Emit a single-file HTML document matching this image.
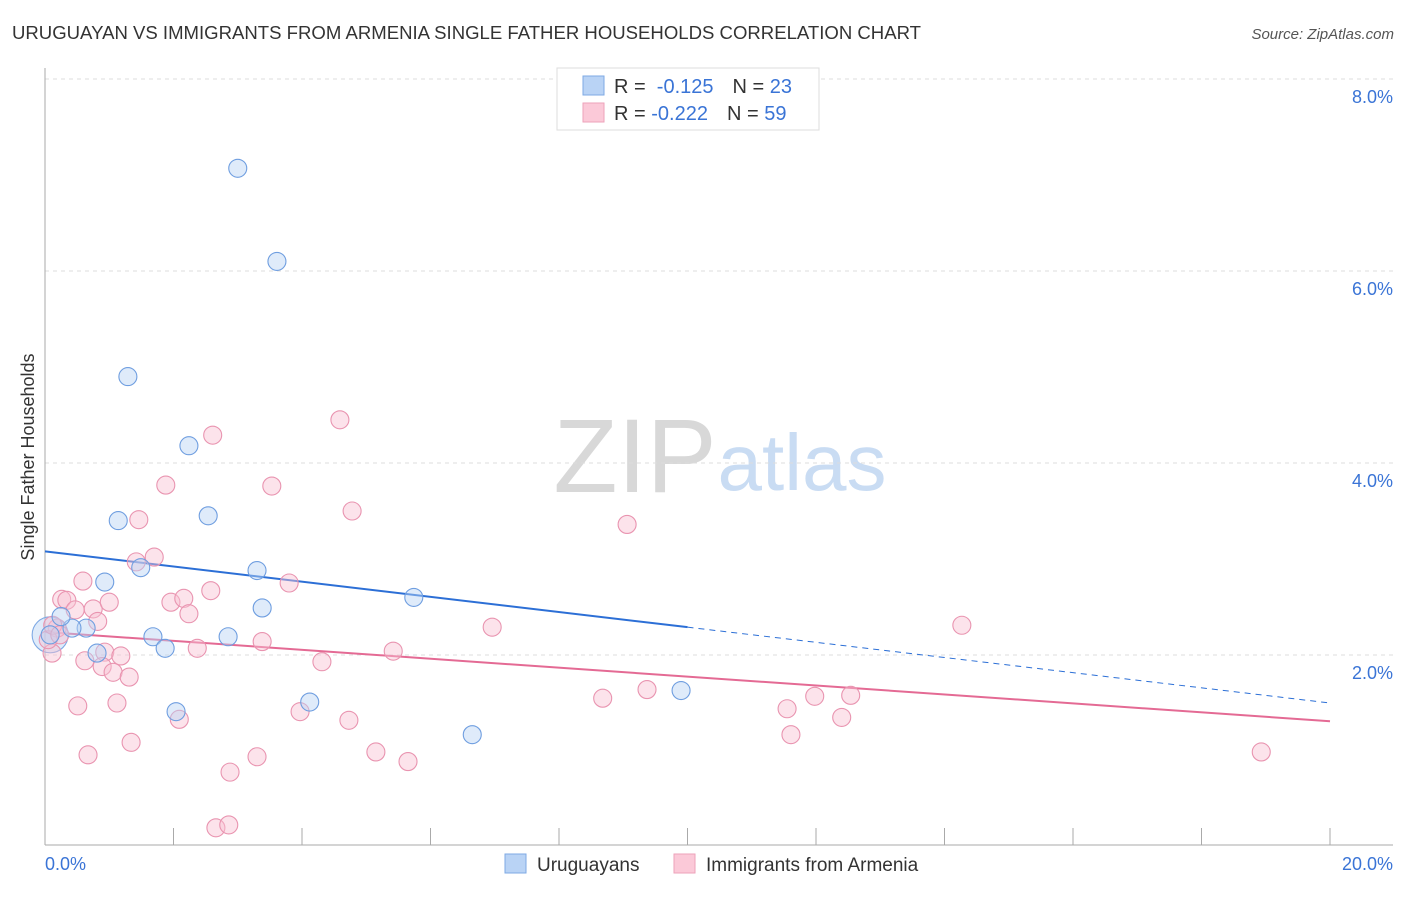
<!DOCTYPE html>
<html><head><meta charset="utf-8"><style>
body{margin:0;background:#fff;font-family:"Liberation Sans",sans-serif;}
svg text{font-family:"Liberation Sans",sans-serif;}
</style></head><body>
<svg id="chart" width="1406" height="892" viewBox="0 0 1406 892" xmlns="http://www.w3.org/2000/svg">
<text x="12" y="39" font-size="18" fill="#333" textLength="909" lengthAdjust="spacingAndGlyphs">URUGUAYAN VS IMMIGRANTS FROM ARMENIA SINGLE FATHER HOUSEHOLDS CORRELATION CHART</text>
<text x="1394" y="39" font-size="15" fill="#555" font-style="italic" text-anchor="end">Source: ZipAtlas.com</text>
<g>
<text x="635" y="492" font-size="105" fill="#d8d8d8" font-family="Liberation Serif,serif" text-anchor="middle">ZIP</text>
<text x="802" y="490" font-size="80" fill="#c9dcf3" text-anchor="middle">atlas</text>
</g>
<g id="grid"></g>
<g id="axes"></g>
<g id="trends"></g>
<g id="points"></g>
<text transform="translate(34,457) rotate(-90)" font-size="18" fill="#333" text-anchor="middle">Single Father Households</text>
<g>
<rect x="557" y="68" width="262" height="62" fill="#fff" stroke="#ddd"/>
<rect x="583" y="76" width="21" height="19" fill="#b9d3f5" stroke="#7ea9e4"/>
<rect x="583" y="103" width="21" height="19" fill="#fbc9d8" stroke="#eea2ba"/>
<text x="614" y="93" font-size="20" fill="#333">R = <tspan fill="#3a74d6">&#160;-0.125</tspan><tspan dx="19">N = </tspan><tspan fill="#3a74d6">23</tspan></text>
<text x="614" y="120" font-size="20" fill="#333">R = <tspan fill="#3a74d6">-0.222</tspan><tspan dx="19">N = </tspan><tspan fill="#3a74d6">59</tspan></text>
</g>
<g>
<rect x="505" y="854" width="21" height="19" fill="#b9d3f5" stroke="#7ea9e4"/>
<text x="537" y="871" font-size="19" fill="#333">Uruguayans</text>
<rect x="674" y="854" width="21" height="19" fill="#fbc9d8" stroke="#eea2ba"/>
<text x="706" y="871" font-size="19" fill="#333">Immigrants from Armenia</text>
</g>
</svg>
<script>
const yTicks=[2,4,6,8];
const xTickLabels=["0.0%","20.0%"];
const blueX=[3.00,3.61,1.29,2.24,2.54,1.14,1.49,3.30,0.93,5.74,3.38,1.68,2.85,1.87,0.81,0.64,0.42,0.25,0.08,4.12,2.04,6.65,9.90];
const blueY=[7.07,6.10,4.90,4.18,3.45,3.40,2.91,2.88,2.76,2.60,2.49,2.19,2.19,2.07,2.02,2.28,2.28,2.40,2.21,1.51,1.41,1.17,1.63];
const pinkX=[0.59,0.26,0.34,0.47,0.75,1.00,0.82,0.19,0.11,0.62,0.93,0.89,1.06,1.18,1.31,0.51,1.12,0.67,1.34,2.09,1.42,1.70,1.96,2.16,2.24,2.58,2.37,3.38,2.88,3.30,2.66,2.86,2.61,4.59,1.88,3.53,1.46,4.78,9.06,3.80,6.96,14.27,4.31,5.42,8.68,9.37,11.55,11.98,12.54,12.40,11.61,3.97,4.73,5.15,5.65,18.93,0.05,0.12,0.23];
const pinkY=[2.77,2.58,2.57,2.47,2.48,2.55,2.35,2.28,2.02,1.94,2.03,1.88,1.82,1.99,1.77,1.47,1.50,0.96,1.09,1.33,2.97,3.02,2.55,2.59,2.43,2.67,2.07,2.14,0.78,0.94,0.20,0.23,4.29,4.45,3.77,3.76,3.41,3.50,3.36,2.75,2.29,2.31,1.93,2.04,1.55,1.64,1.44,1.57,1.58,1.35,1.17,1.41,1.32,0.99,0.89,0.99,2.16,2.31,2.21];
const blueTrend=[3.08,1.50]; // y at x=0 and x=20
const blueSolidEnd=10;
const pinkTrend=[2.24,1.31];
const NS="http://www.w3.org/2000/svg";
const sx=v=>45+v/20*1285;
const sy=v=>847-v*96;
function mk(tag,attrs,parent){const e=document.createElementNS(NS,tag);for(const k in attrs)e.setAttribute(k,attrs[k]);parent.appendChild(e);return e;}
const grid=document.getElementById('grid'),axes=document.getElementById('axes'),trends=document.getElementById('trends'),pts=document.getElementById('points');
yTicks.forEach(t=>{
 const l=mk('line',{x1:45,x2:1393,y1:sy(t),y2:sy(t),stroke:'#ddd','stroke-dasharray':'4,4'},grid);
 
 
 const tx=mk('text',{x:1393,y:sy(t)+24,'font-size':18,fill:'#3a74d6','text-anchor':'end'},axes);
 tx.textContent=t.toFixed(1)+'%';
 
 
});
const ya=mk('line',{x1:45,x2:45,y1:68,y2:845,stroke:'#aaa'},axes);


const xa=mk('line',{x1:45,x2:1393,y1:845,y2:845,stroke:'#aaa'},axes);


for(let i=1;i<=10;i++){
 const t=mk('line',{x1:sx(i*2),x2:sx(i*2),y1:828,y2:845,stroke:'#aaa'},axes);
 
 
}
const xl0=mk('text',{x:45,y:870,'font-size':18,fill:'#3a74d6'},axes);xl0.textContent=xTickLabels[0];


const xl1=mk('text',{x:1393,y:870,'font-size':18,fill:'#3a74d6','text-anchor':'end'},axes);xl1.textContent=xTickLabels[1];


function pt(x,y,r,fill,stroke,name){const c=mk('circle',{cx:sx(x),cy:sy(y),r:r,fill:fill,'fill-opacity':0.45,stroke:stroke,'stroke-width':1.1},pts);
 
 }
pt(0.08,2.21,18,'#b9d3f5','#7ea9e4','point-uruguayans-large');
pinkX.forEach((x,i)=>pt(x,pinkY[i],9,'#f9c2d3','#e994b0','point-armenia'));
blueX.forEach((x,i)=>pt(x,blueY[i],9,'#b9d3f5','#6f9ee0','point-uruguayans'));
const by=x=>blueTrend[0]+(blueTrend[1]-blueTrend[0])*x/20;
const py=x=>pinkTrend[0]+(pinkTrend[1]-pinkTrend[0])*x/20;
const b1=mk('line',{x1:sx(0),y1:sy(by(0)),x2:sx(blueSolidEnd),y2:sy(by(blueSolidEnd)),stroke:'#2c6fd6','stroke-width':2},trends);


const b2=mk('line',{x1:sx(blueSolidEnd),y1:sy(by(blueSolidEnd)),x2:sx(20),y2:sy(by(20)),stroke:'#2c6fd6','stroke-width':1,'stroke-dasharray':'6,5'},trends);


const p1=mk('line',{x1:sx(0),y1:sy(py(0)),x2:sx(20),y2:sy(py(20)),stroke:'#e46a94','stroke-width':2},trends);


</script>
</body></html>
